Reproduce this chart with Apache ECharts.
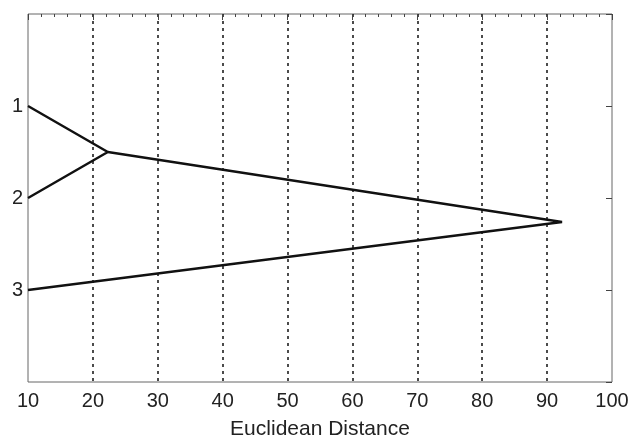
<!DOCTYPE html>
<html>
<head>
<meta charset="utf-8">
<script src="https://cdn.jsdelivr.net/npm/echarts@6/dist/echarts.min.js"></script>
<style>
  html, body { margin: 0; padding: 0; background: #fff; }
  #main { width: 629px; height: 440px; }
</style>
</head>
<body>
<div id="main"></div>
<script>
  // dendrogram links: [distance, leaf position]
  var xTicks = [10, 20, 30, 40, 50, 60, 70, 80, 90, 100];
  var leafLabels = ['1', '2', '3'];
  var link12 = [[10, 1], [22.3, 1.5], [10, 2]];
  var link123 = [[22.3, 1.5], [92.3, 2.26], [10, 3]];

  var chart = echarts.init(document.getElementById('main'));
  var font = '"Liberation Sans", Arial, sans-serif';
  var lineStyle = { color: '#111', width: 2.5 };

  chart.setOption({
    animation: false,
    grid: {
      left: 28, right: 17, top: 14, bottom: 58,
      outerBoundsMode: 'none', containLabel: false,
      show: true, borderColor: '#666', borderWidth: 1
    },
    xAxis: [
      {
        type: 'value', min: xTicks[0], max: xTicks[xTicks.length - 1], interval: 10,
        name: 'Euclidean Distance', nameLocation: 'middle', nameGap: 37,
        nameTextStyle: { color: '#222', fontSize: 21, fontFamily: font },
        axisLine: { show: false },
        axisTick: { show: false },
        axisLabel: { color: '#222', fontSize: 20, fontFamily: font, margin: 9 },
        splitLine: {
          show: true, showMinLine: false, showMaxLine: false,
          lineStyle: { color: '#111', type: [3, 4], width: 1.5 }
        }
      },
      {
        type: 'value', position: 'top', min: 10, max: 100, interval: 10,
        axisLine: { show: false },
        axisLabel: { show: false },
        axisTick: { show: true, inside: true, length: 6, lineStyle: { color: '#444' } },
        minorTick: { show: true, splitNumber: 5, length: 3, lineStyle: { color: '#444' } },
        splitLine: { show: false }
      }
    ],
    yAxis: [
      {
        type: 'value', min: 0, max: 4, interval: 1, inverse: true,
        axisLine: { show: false },
        axisTick: { show: false },
        axisLabel: {
          color: '#222', fontSize: 20, fontFamily: font, margin: 5,
          formatter: function (v) { return leafLabels[v - 1] || ''; }
        },
        splitLine: { show: false }
      },
      {
        type: 'value', position: 'right', min: 0, max: 4, interval: 1, inverse: true,
        axisLine: { show: false },
        axisLabel: { show: false },
        axisTick: { show: true, inside: true, length: 6, lineStyle: { color: '#444' } },
        splitLine: { show: false }
      }
    ],
    series: [
      { type: 'line', data: link12, symbol: 'none', lineStyle: lineStyle },
      { type: 'line', data: link123, symbol: 'none', lineStyle: lineStyle }
    ]
  });
</script>
</body>
</html>
